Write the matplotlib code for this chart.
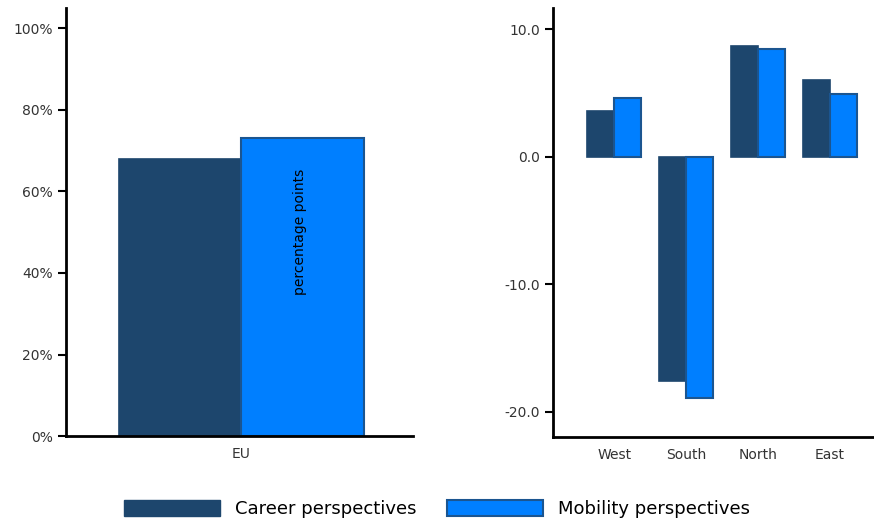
import numpy as np
import matplotlib.pyplot as plt
from matplotlib.patches import Patch

# data
eu_labels = ["EU"]
eu_career = [68.0]
eu_mobility = [73.2]

regions = ["West", "South", "North", "East"]
reg_career = [3.6, -17.6, 8.7, 6.0]
reg_mobility = [4.6, -18.9, 8.5, 4.9]

c_career = "#1d466d"
c_mobility = "#007fff"
e_mobility = "#1b5590"

plt.rcParams['font.family'] = ['DejaVu Sans']

fig = plt.figure(figsize=(8.74, 5.21), dpi=100)
ax1 = fig.add_axes([0.0755, 0.163, 0.397, 0.822])
ax2 = fig.add_axes([0.633, 0.161, 0.366, 0.824])

w = 0.35
x = np.arange(len(eu_labels))
ax1.bar(x - w / 2, eu_career, w, color=c_career, edgecolor=c_career, linewidth=1.2)
ax1.bar(x + w / 2, eu_mobility, w, color=c_mobility, edgecolor=e_mobility, linewidth=1.5)
ax1.set_xlim(-0.5, 0.49)
ax1.set_ylim(0, 105)
ax1.set_yticks([0, 20, 40, 60, 80, 100])
ax1.set_yticklabels([f"{v}%" for v in [0, 20, 40, 60, 80, 100]])
ax1.set_xticks(x)
ax1.set_xticklabels(eu_labels)

w2 = 0.375
x2 = np.arange(len(regions))
ax2.bar(x2 - w2 / 2, reg_career, w2, color=c_career, edgecolor=c_career, linewidth=1.2)
ax2.bar(x2 + w2 / 2, reg_mobility, w2, color=c_mobility, edgecolor=e_mobility, linewidth=1.5)
ax2.set_xlim(-0.85, 3.6)
ax2.set_ylim(-22.0, 11.7)
ax2.set_yticks([-20, -10, 0, 10])
ax2.set_yticklabels([f"{v:.1f}" for v in [-20, -10, 0, 10]])
ax2.set_xticks(x2)
ax2.set_xticklabels(regions)

for ax in (ax1, ax2):
    for s in ("top", "right"):
        ax.spines[s].set_visible(False)
    for s in ("left", "bottom"):
        ax.spines[s].set_linewidth(2)
        ax.spines[s].set_color("black")
    ax.tick_params(axis="y", length=6, width=1.5, labelsize=10, colors="black", labelcolor="#333333")
    ax.tick_params(axis="x", length=0, labelsize=10, pad=8, labelcolor="#333333")

fig.text(0.343, 0.555, "percentage points", rotation=90, ha="center", va="center", fontsize=10)

handles = [Patch(facecolor=c_career, edgecolor=c_career),
           Patch(facecolor=c_mobility, edgecolor=e_mobility, linewidth=1.5)]
fig.legend(handles, ["Career perspectives", "Mobility perspectives"], loc="center",
           bbox_to_anchor=(0.5, 0.023), ncol=2, frameon=False, fontsize=13,
           handlelength=5.3, handleheight=1.0, columnspacing=1.7, handletextpad=0.83)

fig.savefig("out.png", dpi=100)
